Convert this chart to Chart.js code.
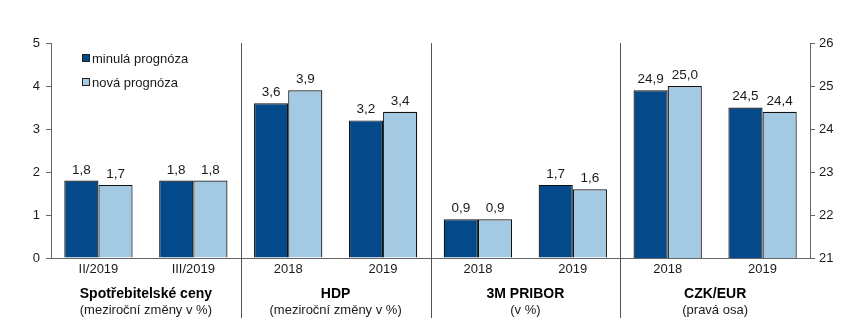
<!DOCTYPE html>
<html>
<head>
<meta charset="utf-8">
<script src="https://cdn.jsdelivr.net/npm/chart.js@4"></script>
<style>
  html, body { margin: 0; padding: 0; background: #fff; }
  #wrap { width: 868px; height: 328px; }
</style>
</head>
<body>
<div id="wrap"><canvas id="myChart" width="868" height="328"></canvas></div>
<script>
const categories = ['II/2019', 'III/2019', '2018', '2019', '2018', '2019', '2018', '2019'];
const minulaLeft = [1.8, 1.8, 3.6, 3.2, 0.9, 1.7, null, null];
const novaLeft = [1.7, 1.8, 3.9, 3.4, 0.9, 1.6, null, null];
const minulaRight = [null, null, null, null, null, null, 24.9, 24.5];
const novaRight = [null, null, null, null, null, null, 25.0, 24.4];
const groupTitles = ['Spotřebitelské ceny', 'HDP', '3M PRIBOR', 'CZK/EUR'];
const groupNotes = ['(meziroční změny v %)', '(meziroční změny v %)', '(v %)', '(pravá osa)'];
const seriesNames = ['minulá prognóza', 'nová prognóza'];

const darkBlue = '#044a8a';
const lightBlue = '#a3cae2';
const FONT = 'Liberation Sans, Arial, sans-serif';

const fmt = v => v.toFixed(1).replace('.', ',');

const extras = {
    id: 'extras',
    afterDatasetsDraw(chart) {
        const ctx = chart.ctx;
        const x = chart.scales.x;
        const area = chart.chartArea;
        ctx.save();
        // value labels
        ctx.font = '13.5px ' + FONT;
        ctx.fillStyle = '#1a1a1a';
        ctx.textAlign = 'center';
        ctx.textBaseline = 'bottom';
        chart.data.datasets.forEach((ds, i) => {
            const meta = chart.getDatasetMeta(i);
            meta.data.forEach((el, j) => {
                const v = ds.data[j];
                if (v === null || v === undefined) return;
                ctx.fillText(fmt(v), el.x, el.y - 4);
            });
        });
        // separators between groups
        const step = x.getPixelForValue(1) - x.getPixelForValue(0);
        ctx.strokeStyle = '#555';
        ctx.lineWidth = 1;
        for (let g = 1; g < groupTitles.length; g++) {
            const px = Math.round(x.getPixelForValue(g * 2 - 1) + step / 2) + 0.5;
            ctx.beginPath();
            ctx.moveTo(px, area.top);
            ctx.lineTo(px, area.bottom + 60);
            ctx.stroke();
        }
        // group titles
        ctx.textBaseline = 'middle';
        groupTitles.forEach((t, g) => {
            const cx = (x.getPixelForValue(g * 2) + x.getPixelForValue(g * 2 + 1)) / 2;
            ctx.font = 'bold 14px ' + FONT;
            ctx.fillStyle = '#000';
            ctx.fillText(t, cx, area.bottom + 36);
            ctx.font = '13px ' + FONT;
            ctx.fillStyle = '#1a1a1a';
            ctx.fillText(groupNotes[g], cx, area.bottom + 52);
        });
        // legend inside plot
        ctx.textAlign = 'left';
        ctx.font = '13px ' + FONT;
        [darkBlue, lightBlue].forEach((c, k) => {
            const ly = area.top + 15 + k * 24;
            ctx.fillStyle = c;
            ctx.fillRect(area.left + 31, ly - 4, 8, 8);
            ctx.strokeStyle = '#222';
            ctx.strokeRect(area.left + 31.5, ly - 3.5, 7, 7);
            ctx.fillStyle = '#1a1a1a';
            ctx.fillText(seriesNames[k], area.left + 41, ly + 1);
        });
        ctx.restore();
    }
};

const barStyle = {
    borderColor: '#111',
    borderWidth: 1.2,
    skipNull: true,
    categoryPercentage: 0.72,
    barPercentage: 1
};

const chart = new Chart(document.getElementById('myChart'), {
    type: 'bar',
    data: {
        labels: categories,
        datasets: [
            { ...barStyle, label: seriesNames[0], data: minulaLeft, backgroundColor: darkBlue, yAxisID: 'y' },
            { ...barStyle, label: seriesNames[1], data: novaLeft, backgroundColor: lightBlue, yAxisID: 'y' },
            { ...barStyle, label: seriesNames[0], data: minulaRight, backgroundColor: darkBlue, yAxisID: 'y1' },
            { ...barStyle, label: seriesNames[1], data: novaRight, backgroundColor: lightBlue, yAxisID: 'y1' }
        ]
    },
    options: {
        responsive: false,
        animation: false,
        layout: { padding: { top: 43, left: 0, right: 0, bottom: 0 } },
        scales: {
            x: {
                grid: { display: false, tickLength: 0 },
                border: { color: '#666' },
                ticks: { color: '#1a1a1a', font: { size: 13, family: FONT }, padding: 4 },
                afterFit: s => { s.height = 70; }
            },
            y: {
                position: 'left',
                min: 0,
                max: 5,
                ticks: { stepSize: 1, color: '#1a1a1a', font: { size: 13, family: FONT }, padding: 6 },
                grid: { drawOnChartArea: false, tickLength: 5, color: '#666' },
                border: { color: '#666' },
                afterFit: s => { s.width = 51; }
            },
            y1: {
                position: 'right',
                min: 21,
                max: 26,
                ticks: { stepSize: 1, color: '#1a1a1a', font: { size: 13, family: FONT }, padding: 4 },
                grid: { drawOnChartArea: false, tickLength: 5, color: '#666' },
                border: { color: '#666' },
                afterFit: s => { s.width = 58; }
            }
        },
        plugins: {
            legend: { display: false },
            tooltip: { enabled: false }
        }
    },
    plugins: [extras]
});
</script>
</body>
</html>
